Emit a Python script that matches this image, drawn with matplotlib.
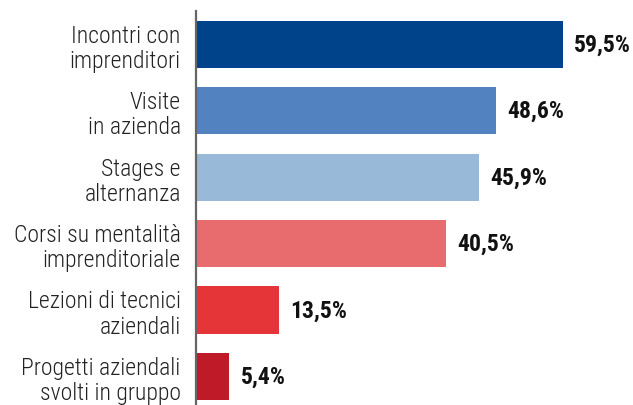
import matplotlib
matplotlib.use("Agg")
import matplotlib.pyplot as plt

# categories and values
labels = [
    "Incontri con\nimprenditori",
    "Visite\nin azienda",
    "Stages e\nalternanza",
    "Corsi su mentalità\nimprenditoriale",
    "Lezioni di tecnici\naziendali",
    "Progetti aziendali\nsvolti in gruppo",
]
values = [59.5, 48.6, 45.9, 40.5, 13.5, 5.4]
colors = ["#00438A", "#5282C0", "#99B9D8", "#E86C6E", "#E63538", "#BF1A28"]

plt.rcParams["font.family"] = ["Roboto Condensed", "DejaVu Sans"]

fig = plt.figure(figsize=(6.33, 4.06), dpi=100)
ax = fig.add_axes([196 / 633, 0.0, 1 - 196 / 633, 394 / 406])

pos = list(range(len(values)))
ax.barh(pos, values, height=0.71, color=colors)

# value labels at bar ends
for y, v in zip(pos, values):
    ax.annotate(f"{v:.1f}%".replace(".", ","), (v, y), xytext=(8, 0),
                textcoords="offset points", va="center", ha="left",
                fontsize=17, fontweight="bold", color="#111111")

ax.set_yticks(pos)
ax.set_yticklabels(labels, fontsize=17, fontweight="light", color="#222222",
                   linespacing=1.12)
ax.tick_params(axis="y", length=0, pad=11)
ax.set_xticks([])

ax.set_xlim(0, 70.8)
ax.set_ylim(5.43, -0.5)

for s in ["top", "right", "bottom"]:
    ax.spines[s].set_visible(False)
ax.spines["left"].set_color("#666666")
ax.spines["left"].set_linewidth(1.6)

plt.savefig("out.png")
